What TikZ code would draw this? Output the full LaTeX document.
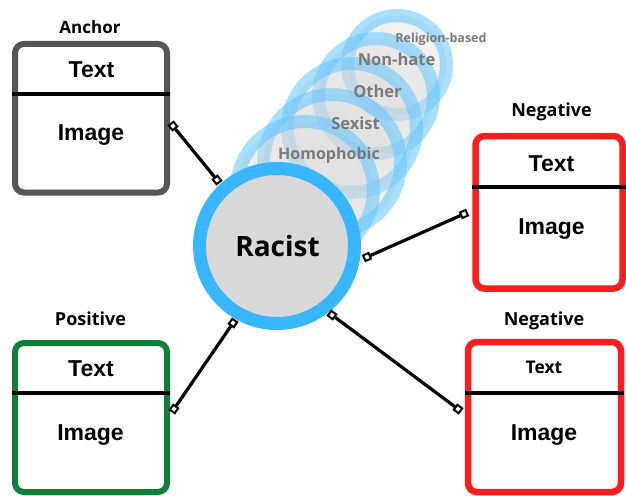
\documentclass[tikz,border=0pt]{standalone}
\usepackage{fontspec}
\newfontfamily\osans{Open Sans}
\newfontfamily\arial{Liberation Sans}
\definecolor{ringc}{HTML}{38B6FF}
\definecolor{ghostc}{HTML}{62C6FF}
\definecolor{fillg}{HTML}{D9D9D9}
\definecolor{redb}{HTML}{FF1C1C}
\definecolor{greenb}{HTML}{0E7F3A}
\definecolor{grayb}{HTML}{555555}
\definecolor{lblc}{HTML}{7A7A7A}
\begin{document}
\begin{tikzpicture}[x=1pt,y=-1pt,
  cardbox/.style={draw=#1, rounded corners=9pt, line width=6pt, inner sep=0pt, rectangle},
  divider/.style={line width=3.5pt, black},
  ghostring/.style={circle, draw=ghostc, draw opacity=0.55, fill=fillg, fill opacity=0.38, line width=13pt, inner sep=0pt},
  mainring/.style={circle, draw=ringc, fill=fillg, line width=13pt, inner sep=0pt},
  sq/.style={rectangle, draw=black, fill=white, line width=2pt, minimum size=6pt, inner sep=0pt},
  conn/.style={line width=3.2pt, black},
  glabel/.style={font=\osans\bfseries\fontsize{16.5}{18}\selectfont, text=lblc, anchor=base, inner sep=0pt},
  title/.style={font=\osans\bfseries\fontsize{18}{20}\selectfont, anchor=base, inner sep=0pt},
  fieldtxt/.style={font=\arial\bfseries\fontsize{23}{26}\selectfont, anchor=base, inner sep=0pt}
]
\useasboundingbox (0,0) rectangle (626,495);

% ghost circles (back to front)
\node[ghostring, minimum size=99pt] (g5) at (397,65) {};
\node[ghostring, minimum size=115pt] (g4) at (376,96) {};
\node[ghostring, minimum size=129pt] (g3) at (352,128) {};
\node[ghostring, minimum size=137pt] (g2) at (332,163) {};
\node[ghostring, minimum size=137pt] (g1) at (305,190) {};

\node[glabel, font=\osans\bfseries\fontsize{12.5}{14}\selectfont] (lrel) at (441,42.3) {Religion-based};
\node[glabel] (lnon) at (396.5,65.7) {Non-hate};
\node[glabel] (loth) at (377.5,97.7) {Other};
\node[glabel] (lsex) at (355.5,129.3) {Sexist};
\node[glabel, font=\osans\bfseries\fontsize{16}{18}\selectfont] (lhom) at (329,159) {Homophobic};

% main circle
\node[mainring, minimum size=155pt] (main) at (277,246) {};
\node[font=\osans\bfseries\fontsize{28}{32}\selectfont, anchor=base, inner sep=0pt] (racist) at (277.5,256.7) {Racist};

% boxes
\node[cardbox=grayb, minimum width=152pt, minimum height=148.5pt] (anc) at (91,118.25) {};
\draw[divider] (12,94) -- (170,94);
\node[title, font=\osans\bfseries\fontsize{17}{20}\selectfont] (tanc) at (90,33.7) {Anchor};
\node[fieldtxt] (anct) at (91.5,77.2) {Text};
\node[fieldtxt] (anci) at (91,140.8) {Image};

\node[cardbox=redb, minimum width=147pt, minimum height=152.5pt, line width=6.5pt] (neg1) at (549,212.25) {};
\draw[divider] (472,187) -- (626,187);
\node[title] (tneg1) at (551.5,116) {Negative};
\node[fieldtxt] (neg1t) at (551.5,171) {Text};
\node[fieldtxt] (neg1i) at (551.5,234) {Image};

\node[cardbox=greenb, minimum width=152pt, minimum height=149pt] (pos) at (91,417.5) {};
\draw[divider] (12,393) -- (170,393);
\node[title] (tpos) at (90.5,325) {Positive};
\node[fieldtxt] (post) at (91,376.7) {Text};
\node[fieldtxt] (posi) at (90.5,440.7) {Image};

\node[cardbox=redb, minimum width=153pt, minimum height=150pt, line width=6.5pt] (neg2) at (544.5,417) {};
\draw[divider] (465,393) -- (624,393);
\node[title] (tneg2) at (544,325) {Negative};
\node[fieldtxt, font=\osans\bfseries\fontsize{17.5}{20}\selectfont] (neg2t) at (544,373.3) {Text};
\node[fieldtxt] (neg2i) at (544,440) {Image};

% connectors
\node[sq, rotate=-51] (a1) at (173,126) {};
\node[sq, rotate=-51] (a2) at (217,180) {};
\draw[conn] (a1) -- (a2);

\node[sq, rotate=24] (n1) at (367,257) {};
\node[sq, rotate=24] (n2) at (464,214) {};
\draw[conn] (n1) -- (n2);

\node[sq, rotate=55.5] (p1) at (174,409) {};
\node[sq, rotate=55.5] (p2) at (233,323) {};
\draw[conn] (p1) -- (p2);

\node[sq, rotate=-36.7] (m1) at (332,315) {};
\node[sq, rotate=-36.7] (m2) at (458,409) {};
\draw[conn] (m1) -- (m2);
\end{tikzpicture}
\end{document}
